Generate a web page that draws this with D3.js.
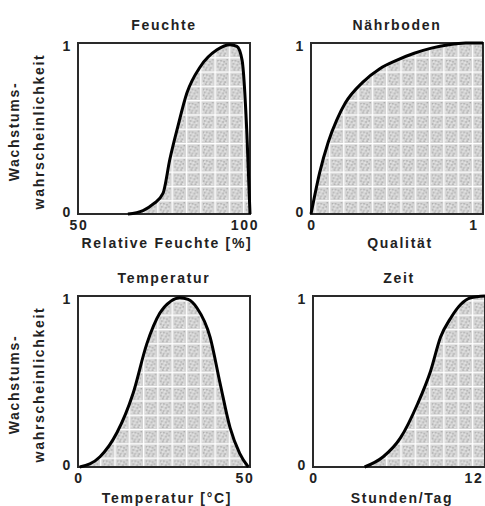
<!DOCTYPE html>
<html><head><meta charset="utf-8">
<script src="https://cdn.jsdelivr.net/npm/d3@7"></script>
<style>
html,body{margin:0;padding:0;background:#fff;}
svg text{font-family:"Liberation Sans",Arial,sans-serif;font-weight:bold;fill:#222;letter-spacing:1.7px;}
</style></head>
<body>
<svg id="c" width="485" height="506"></svg>
<script>
// ---- data ----
const feuchteX = [64.5, 68.9, 72, 74.7, 76.7, 79, 81.7, 85.5, 90.4, 94.2, 96.2, 97.7, 99.1, 100];
const feuchteY = [0, 0.02, 0.06, 0.12, 0.32, 0.51, 0.71, 0.86, 0.96, 0.99, 0.98, 0.9, 0.47, 0];
const naehrX = [0, 0.02, 0.05, 0.1, 0.15, 0.2, 0.3, 0.4, 0.5, 0.6, 0.7, 0.8, 0.9, 1.0];
const naehrY = [0, 0.1, 0.24, 0.42, 0.55, 0.65, 0.77, 0.85, 0.9, 0.94, 0.97, 0.99, 1.0, 1.0];
const tempX = [0.5, 6.4, 11.3, 16, 20, 23.8, 27, 29.6, 32, 34.6, 38.4, 41.3, 44.2, 47, 49.5];
const tempY = [0, 0.06, 0.2, 0.43, 0.72, 0.9, 0.97, 0.99, 0.98, 0.93, 0.76, 0.49, 0.23, 0.08, 0];
const zeitX = [3.6, 4.9, 6.1, 7.3, 8.2, 8.9, 9.6, 10.3, 11, 12];
const zeitY = [0, 0.06, 0.17, 0.37, 0.56, 0.76, 0.87, 0.95, 0.99, 1.0];

const titles = ["Feuchte", "Nährboden", "Temperatur", "Zeit"];
const xLabels = ["Relative Feuchte [%]", "Qualität", "Temperatur [°C]", "Stunden/Tag"];
const xDomains = [[50, 100], [0, 1], [0, 50], [0, 12]];
const xTickLabels = [["50", "100"], ["0", "1"], ["0", "50"], ["0", "12"]];
const yTickLabels = ["0", "1"];
const yLabelLines = ["Wachstums-", "wahrscheinlichkeit"];

const seriesX = [feuchteX, naehrX, tempX, zeitX];
const seriesY = [feuchteY, naehrY, tempY, zeitY];

// ---- layout ----
const svg = d3.select("#c");
const defs = svg.append("defs");
const pat = defs.append("pattern").attr("id", "hatch")
  .attr("patternUnits", "userSpaceOnUse").attr("width", 14.3).attr("height", 14.3);
pat.append("rect").attr("width", 14.3).attr("height", 14.3).attr("fill", "#d4d4d4");
const dots = [[3,3],[6,3],[9,4],[4,6],[8,7],[11,6],[3,9],[6,10],[10,10],[5,12],[9,12],[12,2]];
dots.forEach(([x,y]) => pat.append("rect").attr("x", x).attr("y", y).attr("width", 1.2).attr("height", 1.2).attr("fill", "#9c9c9c"));
const wdots = [[4,4],[7,5],[10,8],[5,8],[7,11],[11,12],[2,11]];
wdots.forEach(([x,y]) => pat.append("rect").attr("x", x).attr("y", y).attr("width", 1.2).attr("height", 1.2).attr("fill", "#f2f2f2"));
pat.append("rect").attr("x", 0).attr("y", 0).attr("width", 14.3).attr("height", 1.3).attr("fill", "#fff");
pat.append("rect").attr("x", 0).attr("y", 0).attr("width", 1.3).attr("height", 14.3).attr("fill", "#fff");

const boxes = [
  {x0: 78, x1: 250, y0: 43, y1: 214, lab: 34},
  {x0: 311, x1: 483, y0: 43, y1: 214, lab: 34},
  {x0: 78, x1: 250, y0: 296, y1: 467, lab: 36},
  {x0: 313, x1: 485, y0: 296, y1: 467, lab: 36}
];

boxes.forEach((b, i) => {
  const g = svg.append("g");
  const x = d3.scaleLinear().domain(xDomains[i]).range([b.x0, b.x1]);
  const y = d3.scaleLinear().domain([0, 1]).range([b.y1, b.y0]);
  const pts = seriesX[i].map((v, k) => [v, seriesY[i][k]]);

  g.append("defs").append("clipPath").attr("id", "clip" + i)
    .append("rect").attr("x", b.x0).attr("y", b.y0 - 2).attr("width", b.x1 - b.x0).attr("height", b.y1 - b.y0 + 2);

  const area = d3.area().x(d => x(d[0])).y0(y(0)).y1(d => y(d[1])).curve(d3.curveMonotoneX);
  g.append("path").datum(pts).attr("d", area).attr("fill", "url(#hatch)").attr("clip-path", "url(#clip" + i + ")");

  g.append("rect").attr("x", b.x0).attr("y", b.y0).attr("width", b.x1 - b.x0).attr("height", b.y1 - b.y0)
    .attr("fill", "none").attr("stroke", "#2a2a2a").attr("stroke-width", 2);

  const line = d3.line().x(d => x(d[0])).y(d => y(d[1])).curve(d3.curveMonotoneX);
  g.append("path").datum(pts).attr("d", line).attr("fill", "none")
    .attr("stroke", "#000").attr("stroke-width", 3).attr("stroke-linejoin", "round");

  const fs = 14;
  g.append("text").attr("x", (b.x0 + b.x1) / 2).attr("y", b.y0 - 13)
    .attr("text-anchor", "middle").attr("font-size", fs).text(titles[i]);
  const xt = xDomains[i];
  g.append("text").attr("x", x(xt[0]) + 1).attr("y", b.y1 + 16).attr("text-anchor", "middle")
    .attr("font-size", fs).text(xTickLabels[i][0]);
  const endX = Math.min(x(xt[1]) - 5, 474);
  g.append("text").attr("x", endX).attr("y", b.y1 + 16).attr("text-anchor", "middle")
    .attr("font-size", fs).text(xTickLabels[i][1]);
  g.append("text").attr("x", (b.x0 + b.x1) / 2 + 3).attr("y", b.y1 + b.lab).attr("text-anchor", "middle")
    .attr("font-size", fs).text(xLabels[i]);
  g.append("text").attr("x", b.x0 - 6).attr("y", y(0) + 3).attr("text-anchor", "end")
    .attr("font-size", fs).text(yTickLabels[0]);
  g.append("text").attr("x", b.x0 - 6).attr("y", y(1) + 8).attr("text-anchor", "end")
    .attr("font-size", fs).text(yTickLabels[1]);
  if (i % 2 === 0) {
    const cy = (b.y0 + b.y1) / 2 + 3;
    g.append("text").attr("transform", `translate(19,${cy}) rotate(-90)`).attr("text-anchor", "middle")
      .attr("font-size", fs).text(yLabelLines[0]);
    g.append("text").attr("transform", `translate(44,${cy}) rotate(-90)`).attr("text-anchor", "middle")
      .attr("font-size", fs).text(yLabelLines[1]);
  }
});
</script>
</body></html>
